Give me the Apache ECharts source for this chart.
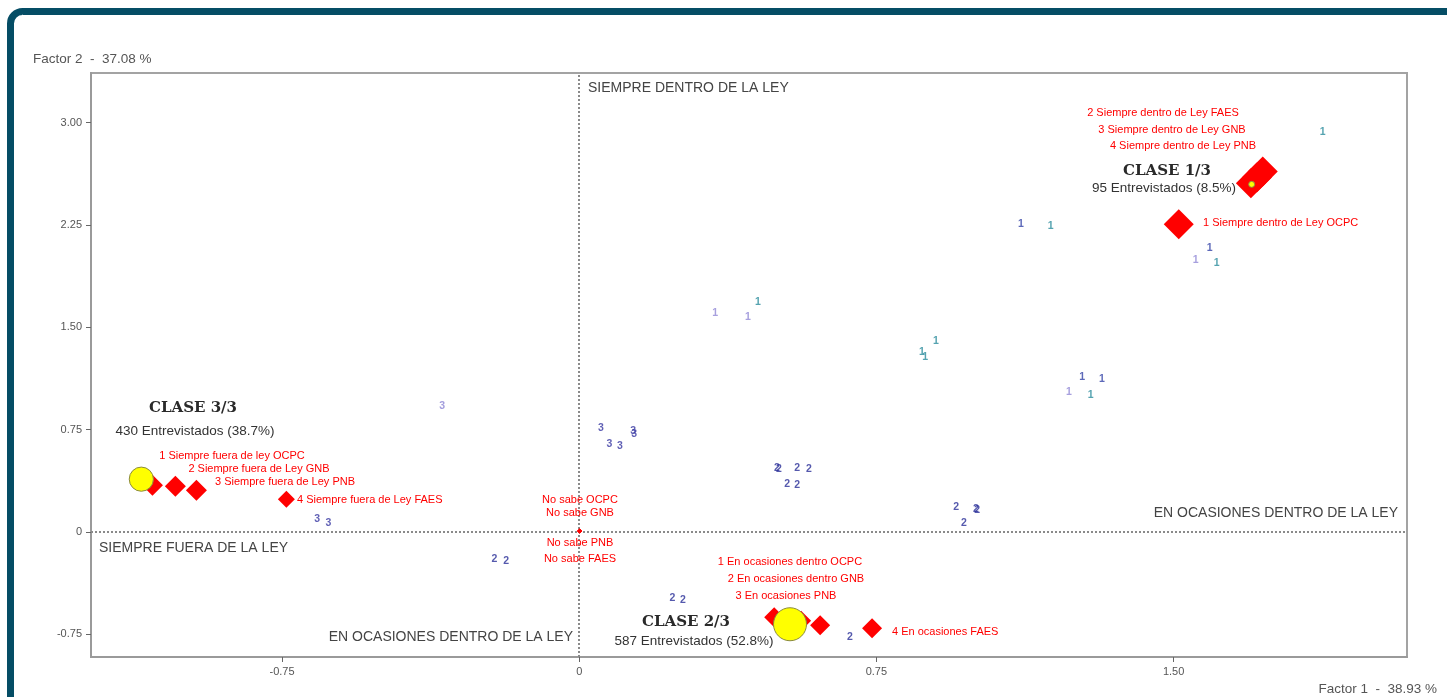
<!DOCTYPE html>
<html><head><meta charset="utf-8">
<script src="https://cdn.jsdelivr.net/npm/echarts@6/dist/echarts.min.js"></script>
<style>html,body{margin:0;padding:0;background:#fff}#c{width:1447px;height:697px}</style>
</head><body><div id="c"></div>
<script>
// ---------- DATA ----------
const xTicks = [-0.75, 0, 0.75, 1.5];
const yTicks = [-0.75, 0, 0.75, 1.5, 2.25, 3];
const xAxisName = 'Factor 1  -  38.93 %';
const yAxisName = 'Factor 2  -  37.08 %';

// Modalities [name, factor1, factor2]
const dentroMods = [
  ['1 Siempre dentro de Ley OCPC', 1.513, 2.254],
  ['2 Siempre dentro de Ley FAES', 1.725, 2.642],
  ['3 Siempre dentro de Ley GNB', 1.710, 2.597],
  ['4 Siempre dentro de Ley PNB', 1.695, 2.556]
];
const fueraMods = [
  ['1 Siempre fuera de ley OCPC', -1.077, 0.342],
  ['2 Siempre fuera de Ley GNB', -1.019, 0.335],
  ['3 Siempre fuera de Ley PNB', -0.966, 0.306]
];
const fueraFaes = [['4 Siempre fuera de Ley FAES', -0.739, 0.239]];
const ocasionesMods = [
  ['1 En ocasiones dentro OCPC', 0.492, -0.625],
  ['2 En ocasiones dentro GNB', 0.560, -0.650],
  ['3 En ocasiones PNB', 0.608, -0.683],
  ['4 En ocasiones FAES', 0.739, -0.705]
];
const noSabeMods = [
  ['No sabe OCPC', 0.001, 0.007],
  ['No sabe GNB', 0.001, 0.007],
  ['No sabe PNB', 0.001, 0.007],
  ['No sabe FAES', 0.001, 0.007]
];

// Class centroids
const classNames = ['CLASE 1/3', 'CLASE 2/3', 'CLASE 3/3'];
const classCounts = [95, 587, 430];
const classPct = ['8.5%', '52.8%', '38.7%'];
const centroidX = [1.697, 0.532, -1.105];
const centroidY = [2.547, -0.676, 0.387];

// Individuals (plotted as class digit)
const class1Teal = [[1.876,2.928],[1.190,2.240],[1.609,1.968],[0.451,1.683],[0.900,1.398],[0.865,1.317],[0.873,1.280],[1.291,1.001]];
const class1Blue = [[1.115,2.254],[1.591,2.078],[1.269,1.133],[1.319,1.119]];
const class1Light = [[1.556,1.990],[0.343,1.602],[0.426,1.573],[1.236,1.024]];
const class2Pts = [[0.499,0.467],[0.504,0.460],[0.550,0.467],[0.580,0.459],[0.525,0.349],[0.550,0.342],[0.951,0.181],[1.001,0.166],[1.004,0.160],[0.971,0.064],[-0.214,-0.200],[-0.184,-0.214],[0.235,-0.486],[0.262,-0.500],[0.683,-0.771]];
const class3Pts = [[0.055,0.760],[0.136,0.738],[0.139,0.716],[0.076,0.643],[0.103,0.628],[-0.661,0.093],[-0.633,0.064]];
const class3Light = [[-0.346,0.921]];

const quadrantLabels = ['SIEMPRE DENTRO DE LA LEY','SIEMPRE FUERA DE LA LEY','EN OCASIONES DENTRO DE LA LEY','EN OCASIONES DENTRO DE LA LEY'];

// ---------- CHART ----------
const chart = echarts.init(document.getElementById('c'));
const SANS = '"Liberation Sans", Arial, sans-serif';
const fmt = v => (Math.abs(v) < 1e-9 ? '0' : v.toFixed(2));

function digitSeries(pts, digit, color){
  return {
    type:'scatter', data: pts, symbol:'circle', symbolSize:1, z:3,
    itemStyle:{color:'rgba(0,0,0,0)'}, silent:true,
    label:{show:true, position:'inside', formatter: digit, color: color,
      fontSize:10.5, fontWeight:'bold', fontFamily: SANS}
  };
}
function modSeries(mods, size, z){
  return {
    type:'scatter', data: mods.map(m => ({name:m[0], value:[m[1], m[2]]})),
    symbol:'diamond', symbolSize:size, z:z||5, silent:true,
    itemStyle:{color:'#ff0000', opacity:1}
  };
}

const redFont = '11px ' + SANS;
function t(text, x, y, align, font, fill){
  return {type:'text', z:20, style:{text:text, x:x, y:y, textAlign:align||'center',
    textVerticalAlign:'middle', font:font||redFont, fill:fill||'#ff0000'}};
}

const graphics = [
  {type:'rect', z:30, shape:{x:10.5, y:11.5, width:1500, height:800, r:12},
   style:{fill:'none', stroke:'#054d65', lineWidth:7}},
  t(yAxisName, 33, 59, 'left', '13.5px ' + SANS, '#555'),
  t(xAxisName, 1437, 689, 'right', '13.5px ' + SANS, '#555'),
  t(quadrantLabels[0], 588, 88, 'left', '14px ' + SANS, '#444'),
  t(quadrantLabels[1], 99, 548, 'left', '14px ' + SANS, '#444'),
  t(quadrantLabels[2], 1398, 513, 'right', '14px ' + SANS, '#444'),
  t(quadrantLabels[3], 573, 637, 'right', '14px ' + SANS, '#444'),
  // class titles
  t(classNames[0], 1167, 171, 'center', 'bold 15px "DejaVu Serif", serif', '#2a2a2a'),
  t(classCounts[0] + ' Entrevistados (' + classPct[0] + ')', 1164, 188, 'center', '13.5px ' + SANS, '#333'),
  t(classNames[1], 686, 622, 'center', 'bold 15px "DejaVu Serif", serif', '#2a2a2a'),
  t(classCounts[1] + ' Entrevistados (' + classPct[1] + ')', 694, 641, 'center', '13.5px ' + SANS, '#333'),
  t(classNames[2], 193, 408, 'center', 'bold 15px "DejaVu Serif", serif', '#2a2a2a'),
  t(classCounts[2] + ' Entrevistados (' + classPct[2] + ')', 195, 431, 'center', '13.5px ' + SANS, '#333'),
  // modality labels
  t(dentroMods[0][0], 1203, 223, 'left'),
  t(dentroMods[1][0], 1163, 113),
  t(dentroMods[2][0], 1172, 130),
  t(dentroMods[3][0], 1183, 146),
  t(fueraMods[0][0], 232, 456),
  t(fueraMods[1][0], 259, 469),
  t(fueraMods[2][0], 285, 482),
  t(fueraFaes[0][0], 297, 500, 'left'),
  t(noSabeMods[0][0], 580, 500),
  t(noSabeMods[1][0], 580, 513),
  t(noSabeMods[2][0], 580, 543),
  t(noSabeMods[3][0], 580, 559),
  t(ocasionesMods[0][0], 790, 562),
  t(ocasionesMods[1][0], 796, 579),
  t(ocasionesMods[2][0], 786, 596),
  t(ocasionesMods[3][0], 892, 632, 'left')
];

const option = {
  animation:false,
  backgroundColor:'#ffffff',
  grid:{left:91, right:40, top:73, bottom:40, show:true, borderColor:'#a3a3a3', borderWidth:2},
  xAxis:{type:'value', min:-1.232, max:2.089,
    axisLine:{show:true, onZero:false, lineStyle:{color:'#9a9a9a', width:2}},
    axisTick:{show:true, length:5, customValues:xTicks, lineStyle:{color:'#666'}},
    axisLabel:{customValues:xTicks, formatter:fmt, fontSize:11, color:'#555', margin:9, fontFamily:SANS},
    splitLine:{show:false}},
  yAxis:{type:'value', min:-0.916, max:3.363,
    axisLine:{show:true, onZero:false, lineStyle:{color:'#9a9a9a', width:2}},
    axisTick:{show:true, length:5, customValues:yTicks, lineStyle:{color:'#666'}},
    axisLabel:{customValues:yTicks, formatter:fmt, fontSize:11, color:'#555', margin:9, fontFamily:SANS},
    splitLine:{show:false}},
  graphic: graphics,
  series:[
    Object.assign(digitSeries(class1Teal, '1', '#2a8c9c'), {
      markLine:{silent:true, symbol:['none','none'], label:{show:false},
        lineStyle:{type:'dotted', color:'#8a8a8a', width:2},
        data:[{xAxis:0},{yAxis:0}]}
    }),
    digitSeries(class1Blue, '1', '#3444a8'),
    digitSeries(class1Light, '1', '#9188d6'),
    digitSeries(class2Pts, '2', '#2b2f98'),
    digitSeries(class3Pts, '3', '#3838a2'),
    digitSeries(class3Light, '3', '#8c84d4'),
    modSeries(noSabeMods, 5),
    modSeries(dentroMods.slice(0,1), 30),
    modSeries(dentroMods.slice(1), 30),
    modSeries(fueraMods, 21),
    modSeries(fueraFaes, 17),
    modSeries(ocasionesMods, 20),
    {
      type:'scatter', z:8, silent:true,
      data: classNames.map((n,i) => ({name:n, value:[centroidX[i], centroidY[i]]})),
      symbol:'circle',
      symbolSize:(v, p) => Math.max(6, classCounts[p.dataIndex] / 587 * 33),
      itemStyle:{color:'#ffff00', opacity:1, borderColor:'#8a8a40', borderWidth:1}
    }
  ]
};
chart.setOption(option);
</script></body></html>
